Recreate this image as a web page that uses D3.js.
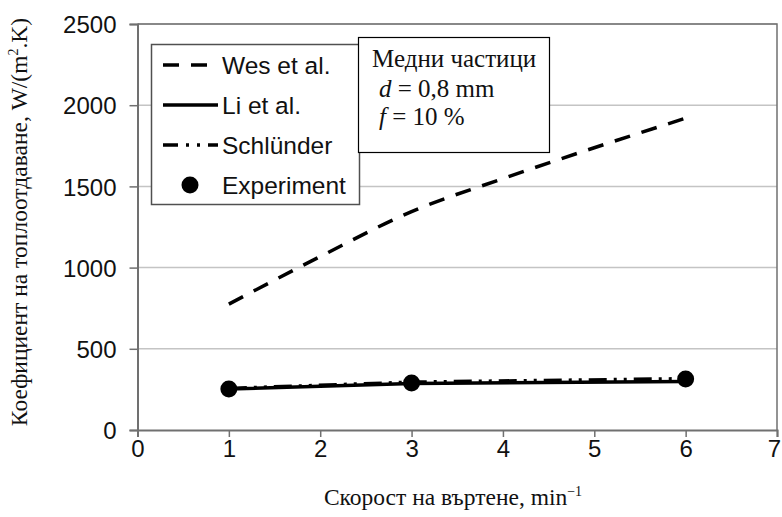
<!DOCTYPE html>
<html>
<head>
<meta charset="utf-8">
<script src="https://cdn.jsdelivr.net/npm/d3@7/dist/d3.min.js"></script>
<style>
  html, body { margin: 0; padding: 0; background: #ffffff; }
  svg { display: block; }
</style>
</head>
<body>
<svg id="chart" width="782" height="517"></svg>
<script>
// Rotation speed (min^-1) and heat transfer coefficient, W/(m2.K)
const speeds = [1, 2, 3, 4, 5, 6];
const wesValues = [775, 1068, 1345, 1548, 1738, 1920];

const measuredSpeeds = [1, 3, 6];
const liValues = [252, 286, 298];
const schlunderValues = [256, 295, 316];
const experimentValues = [252, 289, 314];

const xTicks = [0, 1, 2, 3, 4, 5, 6, 7];
const yTicks = [0, 500, 1000, 1500, 2000, 2500];

const legendLabels = ["Wes et al.", "Li et al.", "Schlünder", "Experiment"];

const svg = d3.select("#chart");

const x = d3.scaleLinear().domain([0, 7]).range([137.5, 777]);
const y = d3.scaleLinear().domain([0, 2500]).range([430, 24]);

const sans = "'Liberation Sans', Arial, sans-serif";
const serif = "'Liberation Serif', 'Times New Roman', serif";

// horizontal gridlines
svg.append("g")
  .selectAll("line")
  .data(yTicks.filter(d => d > 0))
  .join("line")
  .attr("x1", x(0)).attr("x2", x(7))
  .attr("y1", d => y(d)).attr("y2", d => y(d))
  .attr("stroke", "#c4c4c4")
  .attr("stroke-width", 1.5);

// plot frame: top and right edges
svg.append("path")
  .attr("d", `M${x(0)},${y(2500)}H${x(7)}V${y(0)}`)
  .attr("fill", "none")
  .attr("stroke", "#707070")
  .attr("stroke-width", 1.5);

// y axis
const yAxis = svg.append("g")
  .attr("transform", `translate(${x(0)},0)`)
  .call(d3.axisLeft(y).tickValues(yTicks).tickSize(8).tickPadding(13).tickFormat(d3.format("d")));
yAxis.select(".domain").attr("stroke", "#707070").attr("stroke-width", 2);
yAxis.selectAll(".tick line").attr("stroke", "#707070").attr("stroke-width", 1.5);
yAxis.selectAll(".tick text")
  .attr("font-family", sans).attr("font-size", 24).attr("fill", "#111")
  .attr("dy", "0.36em");

// x axis
const xAxis = svg.append("g")
  .attr("transform", `translate(0,${y(0)})`)
  .call(d3.axisBottom(x).tickValues(xTicks).tickSize(7).tickPadding(3).tickFormat(d3.format("d")));
xAxis.select(".domain").attr("stroke", "#707070").attr("stroke-width", 2);
xAxis.selectAll(".tick line").attr("stroke", "#707070").attr("stroke-width", 1.5);
xAxis.selectAll(".tick text")
  .attr("font-family", sans).attr("font-size", 24).attr("fill", "#111")
  .attr("dx", d => (d === 7 ? -3 : 0));

// axis titles
const yTitle = svg.append("text")
  .attr("transform", `translate(27,${(y(0) + 14) / 2}) rotate(-90)`)
  .attr("text-anchor", "middle")
  .attr("font-family", serif).attr("font-size", 23.5).attr("fill", "#111");
yTitle.append("tspan").text("Коефициент на топлоотдаване, W/(m");
yTitle.append("tspan").attr("font-size", 14).attr("dy", -9).text("2");
yTitle.append("tspan").attr("dy", 9).text(".K)");

const xTitle = svg.append("text")
  .attr("x", 453).attr("y", 505)
  .attr("text-anchor", "middle")
  .attr("font-family", serif).attr("font-size", 23.5).attr("fill", "#111");
xTitle.append("tspan").text("Скорост на въртене, min");
xTitle.append("tspan").attr("font-size", 14).attr("dy", -9).text("−1");

// series
const curve = d3.line().x(d => x(d[0])).y(d => y(d[1])).curve(d3.curveMonotoneX);
const straight = d3.line().x(d => x(d[0])).y(d => y(d[1]));

svg.append("path")
  .datum(d3.zip(speeds, wesValues))
  .attr("d", curve)
  .attr("fill", "none").attr("stroke", "#000")
  .attr("stroke-width", 3.5).attr("stroke-dasharray", "16,12");

svg.append("path")
  .datum(d3.zip(measuredSpeeds, schlunderValues))
  .attr("d", straight)
  .attr("fill", "none").attr("stroke", "#000")
  .attr("stroke-width", 3.5).attr("stroke-dasharray", "18,7,3,7,3,7");

svg.append("path")
  .datum(d3.zip(measuredSpeeds, liValues))
  .attr("d", straight)
  .attr("fill", "none").attr("stroke", "#000")
  .attr("stroke-width", 3.5);

svg.append("g")
  .selectAll("circle")
  .data(d3.zip(measuredSpeeds, experimentValues))
  .join("circle")
  .attr("cx", d => x(d[0])).attr("cy", d => y(d[1]))
  .attr("r", 8.5).attr("fill", "#000");

// legend
const legend = svg.append("g");
legend.append("rect")
  .attr("x", 151.5).attr("y", 44.5).attr("width", 208).attr("height", 160)
  .attr("fill", "#fff").attr("stroke", "#505050").attr("stroke-width", 1.5);

const rowY = [65, 105, 145, 185];
const styles = [
  { dash: "16,12", marker: false },
  { dash: null, marker: false },
  { dash: "15,8,3,8,3,8", marker: false },
  { dash: null, marker: true }
];
legendLabels.forEach((label, i) => {
  const s = styles[i];
  if (s.marker) {
    legend.append("circle").attr("cx", 190).attr("cy", rowY[i]).attr("r", 8.5).attr("fill", "#000");
  } else {
    legend.append("line")
      .attr("x1", 163).attr("x2", 218).attr("y1", rowY[i]).attr("y2", rowY[i])
      .attr("stroke", "#000").attr("stroke-width", 3.5)
      .attr("stroke-dasharray", s.dash);
  }
  legend.append("text")
    .attr("x", 222).attr("y", rowY[i] + 8.5)
    .attr("font-family", sans).attr("font-size", 24.5).attr("fill", "#111")
    .text(label);
});

// annotation box
const note = svg.append("g");
note.append("rect")
  .attr("x", 358.5).attr("y", 37.5).attr("width", 191).attr("height", 115)
  .attr("fill", "#fff").attr("stroke", "#000").attr("stroke-width", 1.2);
note.append("text")
  .attr("x", 372).attr("y", 67)
  .attr("font-family", serif).attr("font-size", 25).attr("fill", "#111")
  .text("Медни частици");
const l2 = note.append("text")
  .attr("x", 379).attr("y", 97)
  .attr("font-family", serif).attr("font-size", 25).attr("fill", "#111");
l2.append("tspan").attr("font-style", "italic").text("d");
l2.append("tspan").text(" = 0,8 mm");
const l3 = note.append("text")
  .attr("x", 379).attr("y", 125)
  .attr("font-family", serif).attr("font-size", 25).attr("fill", "#111");
l3.append("tspan").attr("font-style", "italic").text("f");
l3.append("tspan").text(" = 10 %");
</script>
</body>
</html>
